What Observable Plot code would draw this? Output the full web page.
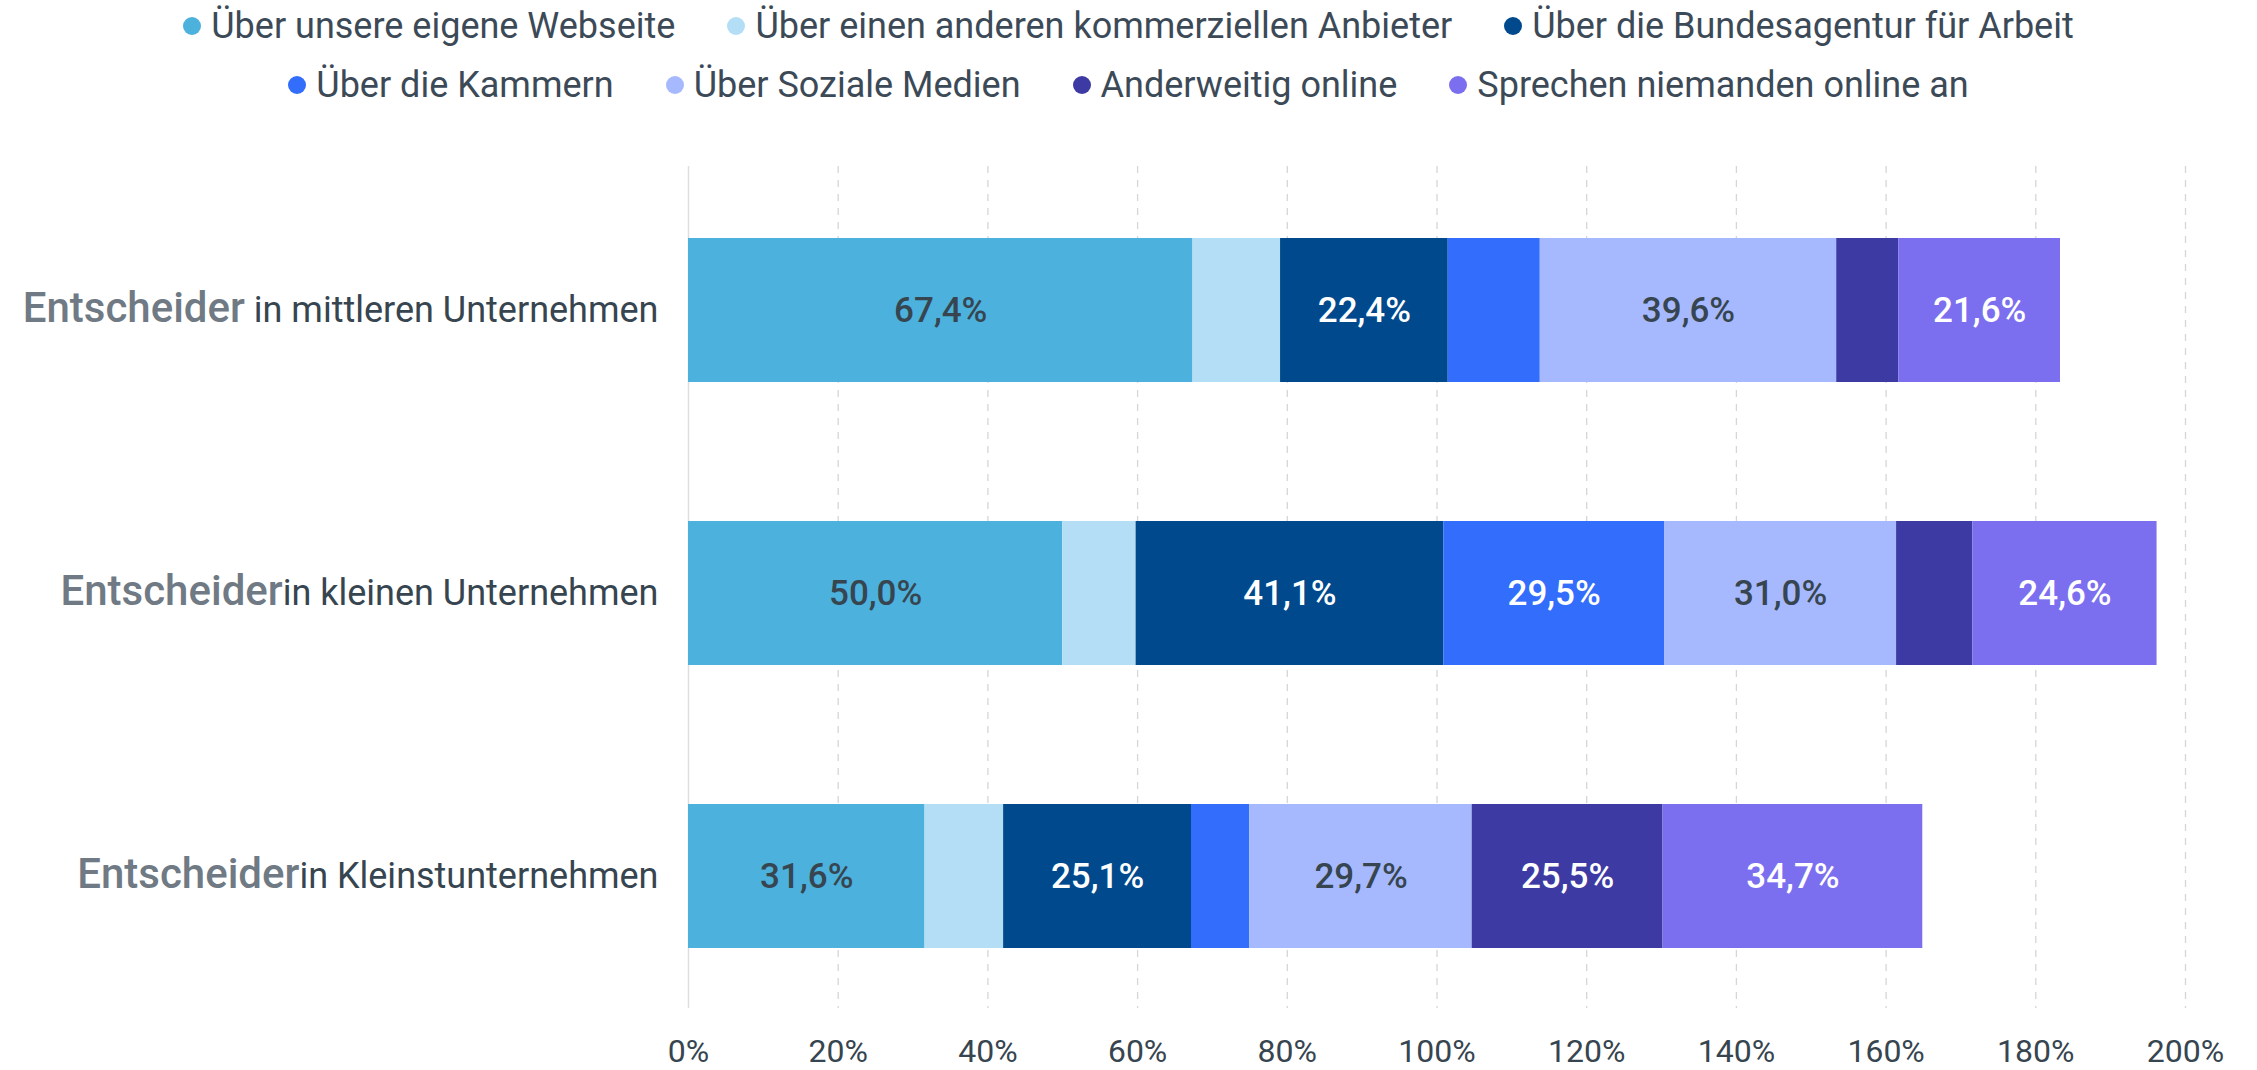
<!DOCTYPE html>
<html><head><meta charset="utf-8">
<script src="https://cdn.jsdelivr.net/npm/d3@7"></script>
<script src="https://cdn.jsdelivr.net/npm/@observablehq/plot@0.6"></script>
<style>
body{margin:0;background:#fff;font-family:Roboto,sans-serif;}
#legend{height:120px;position:relative;color:#3c4a58;font-size:36px;}
.row{position:absolute;left:0;right:0;display:flex;justify-content:center;gap:52px;height:60px;align-items:center;}
.item{display:flex;align-items:center;gap:10px;white-space:nowrap;}
.dot{width:18px;height:18px;border-radius:50%;display:inline-block;}
#chart svg{display:block;overflow:visible;}
</style>
</head><body>
<div id="legend"></div>
<div id="chart"></div>
<script>
const series = [
  "Über unsere eigene Webseite",
  "Über einen anderen kommerziellen Anbieter",
  "Über die Bundesagentur für Arbeit",
  "Über die Kammern",
  "Über Soziale Medien",
  "Anderweitig online",
  "Sprechen niemanden online an"
];
const colors = ["#4cb1dc","#b3def5","#00498d","#336dfb","#a6b9fe","#3d3ba3","#7b6ff0"];
const labelColors = ["#36454f","#36454f","#ffffff","#ffffff","#36454f","#ffffff","#ffffff"];
const legendRows = [[0,1,2],[3,4,5,6]];
const legendRowCenters = [26, 85];

const groups = ["mittel","klein","kleinst"];
const groupPrefix = ["Entscheider","Entscheider","Entscheider"];
const groupSuffix = [" in mittleren Unternehmen","in kleinen Unternehmen","in Kleinstunternehmen"];

const valuesMittel  = [67.4, 11.7, 22.4, 12.3, 39.6, 8.3, 21.6];
const valuesKlein   = [50.0, 9.8, 41.1, 29.5, 31.0, 10.2, 24.6];
const valuesKleinst = [31.6, 10.5, 25.1, 7.8, 29.7, 25.5, 34.7];
const groupValues = [valuesMittel, valuesKlein, valuesKleinst];
const labelMin = 15;

const xTicks = [0,20,40,60,80,100,120,140,160,180,200];

// legend
const leg = document.getElementById("legend");
legendRows.forEach((r, ri) => {
  const row = document.createElement("div");
  row.className = "row";
  row.style.top = (legendRowCenters[ri] - 30) + "px";
  r.forEach(i => {
    const it = document.createElement("span");
    it.className = "item";
    const dot = document.createElement("span");
    dot.className = "dot";
    dot.style.background = colors[i];
    it.appendChild(dot);
    it.appendChild(document.createTextNode(series[i]));
    row.appendChild(it);
  });
  leg.appendChild(row);
});

const data = [];
groups.forEach((g, gi) => {
  groupValues[gi].forEach((v, si) => data.push({group: g, series: series[si], si, value: v}));
});
const fmt = v => v.toFixed(1).replace(".", ",") + "%";

const chart = Plot.plot({
  width: 2257,
  height: 950,
  marginLeft: 688,
  marginRight: 72,
  marginTop: 46,
  marginBottom: 62,
  style: {fontFamily: "Roboto, sans-serif", background: "#fff"},
  x: {domain: [0, 200], label: null},
  y: {domain: groups, range: [59, 888], paddingInner: 0.49, paddingOuter: 0.205, label: null},
  color: {domain: series, range: colors},
  marks: [
    Plot.ruleX(xTicks.filter(d => d > 0), {stroke: "#d6d6d6", strokeDasharray: "7,7", strokeWidth: 1.3}),
    Plot.ruleX([0], {stroke: "#dedede", strokeWidth: 1.5}),
    Plot.barX(data, Plot.stackX({x: "value", y: "group", fill: "series", order: series})),
    Plot.text(data, Plot.stackX({
      x: "value", y: "group", z: "series", order: series,
      text: d => d.value >= labelMin ? fmt(d.value) : "",
      fill: d => labelColors[d.si],
      fontSize: 35, fontWeight: 500
    })),
    Plot.axisX({ticks: xTicks, tickSize: 0, tickPadding: 31, fontSize: 32, tickFormat: d => d + "%", color: "#36454f", label: null}),
    Plot.axisY({tickSize: 0, tickPadding: 30, fontSize: 36, tickFormat: d => groupSuffix[groups.indexOf(d)], label: null})
  ]
});
document.getElementById("chart").appendChild(chart);

// style the y tick labels: bold grey prefix + regular suffix
d3.select(chart).selectAll('g[aria-label="y-axis tick label"] text').each(function(d, i) {
  const t = d3.select(this);
  t.text(null);
  t.append("tspan").attr("fill", "#6f7a84").attr("font-weight", 500).attr("font-size", 42).text(groupPrefix[i]);
  t.append("tspan").attr("fill", "#36454f").text(groupSuffix[i]);
});
</script>
</body></html>
